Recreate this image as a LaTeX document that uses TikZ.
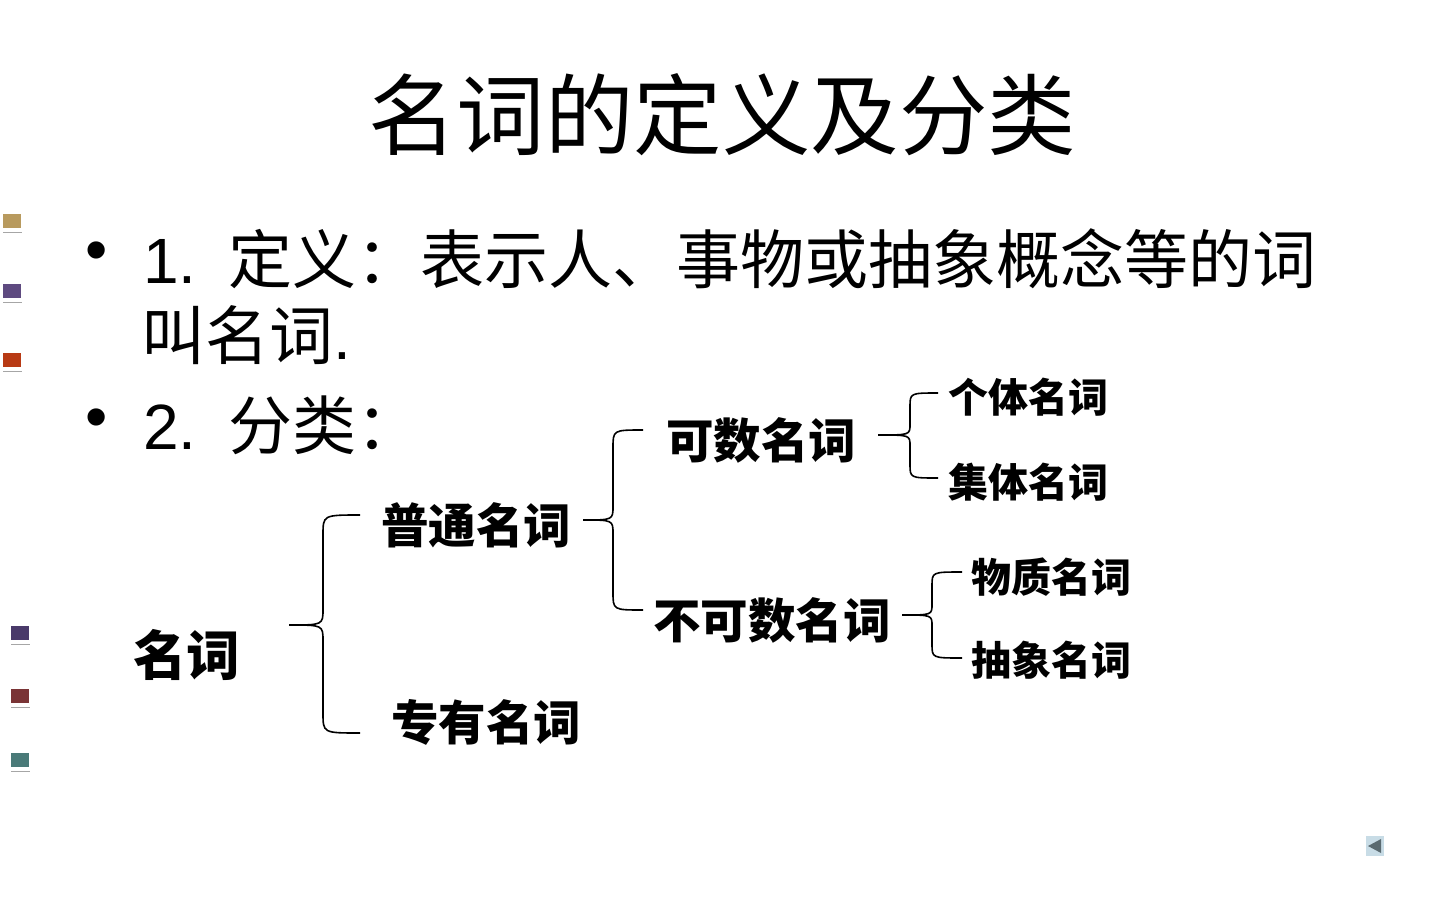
\documentclass[tikz,border=0pt]{standalone}
\usepackage{fontspec}
\setmainfont{Liberation Sans}
\newfontfamily\cjk{Noto Sans CJK SC}
\definecolor{sqA}{HTML}{B89A5E}
\definecolor{sqB}{HTML}{5E4A80}
\definecolor{sqC}{HTML}{B83A14}
\definecolor{sqD}{HTML}{4A3A6A}
\definecolor{sqE}{HTML}{7A3436}
\definecolor{sqF}{HTML}{4A7A78}
\definecolor{btnbg}{HTML}{C8DCE6}
\definecolor{btnfg}{HTML}{5A6A70}
\newcommand\mybrace[8]{%
  \draw[braceln] (#3,#4) .. controls (#2,#4) .. (#2,{#4+#7}) -- (#2,{#5-#8})
    .. controls (#2,#5) .. (#1,#5) .. controls (#2,#5) .. (#2,{#5+#8})
    -- (#2,{#6-#7}) .. controls (#2,#6) .. (#3,#6);}
\newcommand\mysq[3]{%
  \fill[#3] (#1,#2) rectangle ({#1+18},{#2+14});
  \draw[gray!70,line width=1pt] (#1,{#2+18}) -- ({#1+19},{#2+18});}
\begin{document}
\begin{tikzpicture}[x=1pt,y=-1pt,
  braceln/.style={line width=1.6pt,black},
  lbl/.style={anchor=west,inner sep=0pt,font=\cjk\bfseries\fontsize{47.5}{50}\selectfont},
  sml/.style={anchor=west,inner sep=0pt,font=\cjk\bfseries\fontsize{40}{42}\selectfont},
  body/.style={anchor=west,inner sep=0pt,font=\cjk\fontsize{64}{66}\selectfont}]
\useasboundingbox[fill=white] (0,0) rectangle (1440,900);
% title
\node[inner sep=0pt,font=\cjk\fontsize{88.5}{90}\selectfont] (title) at (722,115) {名词的定义及分类};
% bullets
\node[inner sep=0pt,font=\fontsize{63.5}{66}\selectfont] (b1) at (97,257) {•};
\node[inner sep=0pt,font=\fontsize{63.5}{66}\selectfont] (b2) at (97,424) {•};
\node[body] (l1) at (143,259) {{\fontspec{Liberation Sans}1.}\hspace{32pt}定义：表示人、事物或抽象概念等的词};
\node[body] (l2) at (141,335) {叫名词{\fontspec{Liberation Sans}.}};
\node[body] (l3) at (143,425) {{\fontspec{Liberation Sans}2.}\hspace{32pt}分类：};
% diagram
\node[anchor=west,inner sep=0pt,font=\cjk\bfseries\fontsize{53.5}{56}\selectfont] (mc) at (133,655) {名词};
\node[lbl] (pt) at (381,525) {普通名词};
\node[lbl] (zy) at (391,722) {专有名词};
\node[lbl] (ks) at (666,440) {可数名词};
\node[lbl] (bks) at (653,620) {不可数名词};
\node[sml] (gt) at (948,397) {个体名词};
\node[sml] (jt) at (948,482) {集体名词};
\node[sml] (wz) at (971,577) {物质名词};
\node[sml] (cx) at (971,660) {抽象名词};
% braces
\mybrace{289}{323}{360}{515}{625}{733}{20}{16}
\mybrace{583}{613}{643}{430}{520}{610}{18}{14}
\mybrace{878}{910}{938}{393}{435}{478}{14}{11}
\mybrace{902}{932}{962}{572}{615}{658}{14}{11}
% small squares
\mysq{3}{214}{sqA}
\mysq{3}{284}{sqB}
\mysq{3}{353}{sqC}
\mysq{11}{626}{sqD}
\mysq{11}{689}{sqE}
\mysq{11}{753}{sqF}
% back button
\fill[btnbg] (1366,836) rectangle (1384,856);
\fill[btnfg] (1368,846) -- (1381,839) -- (1381,853) -- cycle;
\end{tikzpicture}
\end{document}
